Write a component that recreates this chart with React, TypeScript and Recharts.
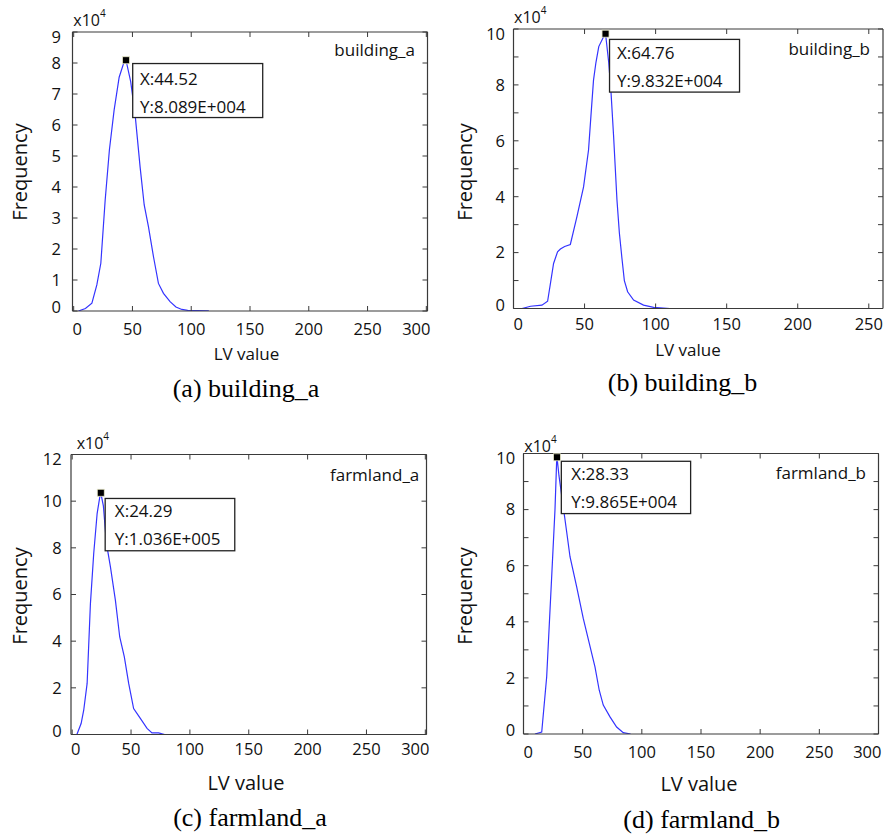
import React from 'react';
import { LineChart, Line, XAxis, YAxis, ReferenceDot } from 'recharts';

const SANS = '"Open Sans", "Noto Sans", sans-serif';
const SERIF = '"Liberation Serif", "Times New Roman", serif';
const AXIS = '#3a3a3a';
const TEXT = '#111111';
const LINE = '#3434ff';

// ---------- data (LV value, frequency counts) ----------
const lvBuildingA = [4, 10, 15.5, 19.7, 23.1, 26.8, 30.4, 34.4, 38.7, 42.9, 44.52, 48.5, 52.3, 56.5, 60, 63.6, 67.9, 72.1, 76.4, 82, 87, 92, 97, 105, 115];
const freqBuildingA = [0, 800, 2500, 8400, 15400, 35800, 52000, 64800, 75400, 80400, 80890, 74000, 63200, 46500, 34200, 27200, 17500, 8900, 5700, 3000, 1300, 500, 200, 100, 50];

const lvBuildingB = [6, 12, 20, 24, 26, 28.2, 31, 33, 36, 40, 44.6, 49.3, 52.8, 54.5, 56.3, 58, 60, 63.4, 64.76, 67, 68.6, 70.4, 72.8, 74.5, 76.3, 78, 80.3, 84.5, 91.5, 98.6, 110];
const freqBuildingB = [0, 800, 1200, 2600, 9000, 16100, 20300, 21300, 22200, 22900, 32800, 43500, 56700, 69000, 81700, 88000, 93700, 97200, 98320, 88000, 77500, 62000, 38800, 27000, 18000, 10000, 6000, 3000, 1200, 400, 0];

const lvFarmlandA = [4, 7.6, 9.8, 12.7, 15.5, 18.3, 21.2, 23.4, 24.29, 26.5, 29.1, 32.5, 36.7, 40.4, 44.3, 48, 52.2, 57.9, 63.6, 67.8, 73.4, 78.5];
const freqFarmlandA = [0, 4700, 10400, 21900, 56100, 77600, 94700, 101600, 103600, 98000, 81900, 71800, 57600, 41800, 33300, 21900, 11100, 6900, 2600, 700, 700, 0];

const lvFarmlandB = [9.7, 15.4, 19.6, 23.8, 26.6, 28, 28.33, 30, 33.6, 36.5, 39.3, 44.9, 50.5, 55.6, 60.4, 64, 67.4, 73.1, 78.7, 84.3, 90.5];
const freqFarmlandB = [0, 700, 20400, 56000, 79900, 97100, 98650, 92000, 81000, 72000, 63200, 52500, 41200, 32300, 23900, 15600, 10300, 6100, 2500, 500, 0];

// data tips (peak points)
const peakBuildingA = { x: 44.52, y: 80890, xText: 'X:44.52', yText: 'Y:8.089E+004' };
const peakBuildingB = { x: 64.76, y: 98320, xText: 'X:64.76', yText: 'Y:9.832E+004' };
const peakFarmlandA = { x: 24.29, y: 103600, xText: 'X:24.29', yText: 'Y:1.036E+005' };
const peakFarmlandB = { x: 28.33, y: 98650, xText: 'X:28.33', yText: 'Y:9.865E+004' };

// ticks
const xTicks300 = [0, 50, 100, 150, 200, 250, 300];
const xTicks250 = [0, 50, 100, 150, 200, 250];
const yTicks9 = [0, 10000, 20000, 30000, 40000, 50000, 60000, 70000, 80000, 90000];
const yTicks10 = [0, 10000, 20000, 30000, 40000, 50000, 60000, 70000, 80000, 90000, 100000];
const yTicks12 = [0, 20000, 40000, 60000, 80000, 100000, 120000];

const titles = ['(a) building_a', '(b) building_b', '(c) farmland_a', '(d) farmland_b'];
const seriesNames = ['building_a', 'building_b', 'farmland_a', 'farmland_b'];

type Panel = {
  lv: number[];
  freq: number[];
  peak: { x: number; y: number; xText: string; yText: string };
  region: { left: number; top: number; width: number; height: number };
  plot: { l: number; t: number; r: number; b: number };
  xDomain: [number, number];
  xTicks: number[];
  yDomain: [number, number];
  yTicks: number[];
  yLabelStep: number;
  xTickOff: number;
  yTickGap: number;
  tip: { dx: number; dy: number; w: number; h: number; tx: number; ty1: number; ty2: number };
};

const panels: Panel[] = [
  {
    lv: lvBuildingA, freq: freqBuildingA, peak: peakBuildingA,
    region: { left: 0, top: 0, width: 442, height: 410 },
    plot: { l: 72.5, t: 32, r: 427.5, b: 311 },
    xDomain: [-1, 301], xTicks: xTicks300, yDomain: [0, 90000], yTicks: yTicks9, yLabelStep: 1,
    xTickOff: 23.7, yTickGap: 11.5,
    tip: { dx: 6.7, dy: 3.3, w: 130, h: 54, tx: 7.3, ty1: 21, ty2: 49 },
  },
  {
    lv: lvBuildingB, freq: freqBuildingB, peak: peakBuildingB,
    region: { left: 442, top: 0, width: 442, height: 410 },
    plot: { l: 513.5, t: 29, r: 883, b: 308.5 },
    xDomain: [0, 260], xTicks: xTicks250, yDomain: [0, 100000], yTicks: yTicks10, yLabelStep: 2,
    xTickOff: 21.6, yTickGap: 8.5,
    tip: { dx: 4, dy: 5.7, w: 130, h: 52.7, tx: 7.4, ty1: 20, ty2: 48 },
  },
  {
    lv: lvFarmlandA, freq: freqFarmlandA, peak: peakFarmlandA,
    region: { left: 0, top: 410, width: 442, height: 427 },
    plot: { l: 71, t: 454.5, r: 426.5, b: 734.5 },
    xDomain: [-1, 301], xTicks: xTicks300, yDomain: [0, 120000], yTicks: yTicks12, yLabelStep: 2,
    xTickOff: 20.4, yTickGap: 9.3,
    tip: { dx: 4.4, dy: 5.7, w: 129.6, h: 52.3, tx: 9.7, ty1: 19, ty2: 46.6 },
  },
  {
    lv: lvFarmlandB, freq: freqFarmlandB, peak: peakFarmlandB,
    region: { left: 442, top: 410, width: 442, height: 427 },
    plot: { l: 523.5, t: 453.5, r: 878.5, b: 734 },
    xDomain: [0, 300], xTicks: xTicks300, yDomain: [0, 100000], yTicks: yTicks10, yLabelStep: 2,
    xTickOff: 23.7, yTickGap: 8.3,
    tip: { dx: 4.3, dy: 4, w: 129.3, h: 52.3, tx: 10, ty1: 19, ty2: 46.6 },
  },
];

// text overlay positions
const overlay = [
  { xl: { x: 246.5, y: 359.5, fs: 17 }, yl: { x: 27, y: 172 }, title: { x: 246, y: 396.5 }, mult: { x: 73.3, y: 26 }, name: { x: 415, y: 56 } },
  { xl: { x: 688, y: 355.5, fs: 17 }, yl: { x: 472, y: 172 }, title: { x: 682.5, y: 391 }, mult: { x: 514, y: 23.3 }, name: { x: 870, y: 54.5 } },
  { xl: { x: 246, y: 789.5, fs: 20 }, yl: { x: 27, y: 596 }, title: { x: 250, y: 825.5 }, mult: { x: 76.7, y: 449.3 }, name: { x: 419.3, y: 481 } },
  { xl: { x: 699, y: 791, fs: 20 }, yl: { x: 472, y: 596 }, title: { x: 701.7, y: 828 }, mult: { x: 524.3, y: 451.7 }, name: { x: 866, y: 478.5 } },
];

const TICK_FS = 16.5;
const DIGIT_W = 0.572 * TICK_FS;
const CAP_H = 0.714 * TICK_FS;
// axis band sizes (bottom, top, left, right)
const HB = 30;
const HT = 1;
const WL = 40;
const WR = 1;

const clamp = (v: number, lo: number, hi: number) => Math.max(lo, Math.min(hi, v));

function PanelChart({ p }: { p: Panel }) {
  const data = p.lv.map((v, i) => ({ lv: v, f: p.freq[i] }));
  const r = p.region;
  const margin = {
    left: p.plot.l - r.left - WL,
    top: p.plot.t - r.top - HT,
    right: r.left + r.width - p.plot.r - WR,
    bottom: r.top + r.height - p.plot.b - HB,
  };
  // plot bounds in chart-local pixels (used to keep end labels inside, as MATLAB does)
  const locL = p.plot.l - r.left;
  const locR = p.plot.r - r.left;
  const locT = p.plot.t - r.top;
  const locB = p.plot.b - r.top;

  const bottomTick = (t: any) => {
    const label = String(t.payload.value);
    const w = label.length * DIGIT_W;
    const cx = clamp(t.x, locL + w / 2, locR + 3 - w / 2);
    return (
      <g>
        <line x1={t.x} x2={t.x} y1={t.y} y2={t.y - 5} stroke={AXIS} strokeWidth={1} />
        <text x={cx} y={t.y + p.xTickOff} textAnchor="middle" fontFamily={SANS} fontSize={TICK_FS} fill={TEXT}>
          {label}
        </text>
      </g>
    );
  };
  const topTick = (t: any) => (
    <line x1={t.x} x2={t.x} y1={t.y} y2={t.y + 5} stroke={AXIS} strokeWidth={1} />
  );
  const leftTick = (t: any) => {
    const v = Math.round(t.payload.value / 10000);
    const cy = clamp(t.y, locT - 1 + CAP_H / 2, locB + 2 - CAP_H / 2);
    return (
      <g>
        <line x1={t.x} x2={t.x + 5} y1={t.y} y2={t.y} stroke={AXIS} strokeWidth={1} />
        {v % p.yLabelStep === 0 ? (
          <text x={t.x - p.yTickGap} y={cy + CAP_H / 2} textAnchor="end" fontFamily={SANS} fontSize={TICK_FS} fill={TEXT}>
            {v}
          </text>
        ) : null}
      </g>
    );
  };
  const rightTick = (t: any) => (
    <line x1={t.x} x2={t.x - 5} y1={t.y} y2={t.y} stroke={AXIS} strokeWidth={1} />
  );
  const tipShape = (s: any) => {
    const cx = s.cx;
    const cy = s.cy;
    const bx = cx + p.tip.dx;
    const by = cy + p.tip.dy;
    return (
      <g>
        <rect x={bx} y={by} width={p.tip.w} height={p.tip.h} fill="#ffffff" stroke="#222" strokeWidth={1.3} />
        <text x={bx + p.tip.tx} y={by + p.tip.ty1} fontFamily={SANS} fontSize={17} fill={TEXT}>{p.peak.xText}</text>
        <text x={bx + p.tip.tx} y={by + p.tip.ty2} fontFamily={SANS} fontSize={17} fill={TEXT}>{p.peak.yText}</text>
        <rect x={cx - 3.5} y={cy - 3.5} width={7} height={7} fill="#000" stroke="#e8e8c8" strokeWidth={0.8} />
      </g>
    );
  };
  return (
    <div style={{ position: 'absolute', left: r.left, top: r.top }}>
      <LineChart width={r.width} height={r.height} data={data} margin={margin}>
        <XAxis
          xAxisId="b" type="number" dataKey="lv" domain={p.xDomain} ticks={p.xTicks} interval={0}
          allowDataOverflow height={HB} tickSize={0} tickMargin={0}
          axisLine={{ stroke: AXIS, strokeWidth: 1.2 }} tickLine={false} tick={bottomTick}
        />
        <XAxis
          xAxisId="t" orientation="top" type="number" dataKey="lv" domain={p.xDomain} ticks={p.xTicks} interval={0}
          allowDataOverflow height={HT} tickSize={0} tickMargin={0}
          axisLine={{ stroke: AXIS, strokeWidth: 1.2 }} tickLine={false} tick={topTick}
        />
        <YAxis
          yAxisId="l" type="number" domain={p.yDomain} ticks={p.yTicks} interval={0}
          allowDataOverflow width={WL} tickSize={0} tickMargin={0}
          axisLine={{ stroke: AXIS, strokeWidth: 1.2 }} tickLine={false} tick={leftTick}
        />
        <YAxis
          yAxisId="r" orientation="right" type="number" domain={p.yDomain} ticks={p.yTicks} interval={0}
          allowDataOverflow width={WR} tickSize={0} tickMargin={0}
          axisLine={{ stroke: AXIS, strokeWidth: 1.2 }} tickLine={false} tick={rightTick}
        />
        <Line
          xAxisId="b" yAxisId="l" dataKey="f" type="linear" stroke={LINE} strokeWidth={1.2}
          dot={false} isAnimationActive={false}
        />
        <ReferenceDot
          xAxisId="b" yAxisId="l" x={p.peak.x} y={p.peak.y} r={3} ifOverflow="visible" shape={tipShape}
        />
      </LineChart>
    </div>
  );
}

export default function App() {
  return (
    <div style={{ position: 'absolute', left: 0, top: 0, width: 884, height: 837, background: '#fff', overflow: 'hidden' }}>
      {panels.map((p, i) => (
        <PanelChart key={i} p={p} />
      ))}
      <svg width={884} height={837} style={{ position: 'absolute', left: 0, top: 0, pointerEvents: 'none' }}>
        {overlay.map((o, i) => (
          <g key={i}>
            <text x={o.xl.x} y={o.xl.y} textAnchor="middle" fontFamily={SANS} fontSize={o.xl.fs} fill={TEXT}>LV value</text>
            <text
              x={o.yl.x} y={o.yl.y} textAnchor="middle" fontFamily={SANS} fontSize={20} fill={TEXT}
              transform={`rotate(-90 ${o.yl.x} ${o.yl.y})`}
            >
              Frequency
            </text>
            <text x={o.title.x} y={o.title.y} textAnchor="middle" fontFamily={SERIF} fontSize={26} fill="#000">{titles[i]}</text>
            <text x={o.mult.x} y={o.mult.y} fontFamily={SANS} fontSize={16} fill={TEXT}>
              x10<tspan fontSize={10} dy={-9}>4</tspan>
            </text>
            <text x={o.name.x} y={o.name.y} textAnchor="end" fontFamily={SANS} fontSize={17} fill={TEXT}>{seriesNames[i]}</text>
          </g>
        ))}
      </svg>
    </div>
  );
}
